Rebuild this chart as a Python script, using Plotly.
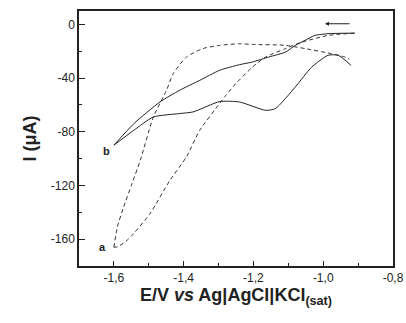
import plotly.graph_objects as go

# curve a (dashed): forward scan (to -1.6 V) then reverse scan
a_fwd_E = [-0.91, -0.986, -1.061, -1.108, -1.165, -1.203, -1.25, -1.279, -1.297, -1.354, -1.392, -1.439, -1.496, -1.543, -1.567, -1.59, -1.60]
a_fwd_I = [-6.5, -8.2, -13.2, -18, -24.3, -31.8, -44, -52.8, -59, -78.9, -98.7, -116, -140.8, -155.7, -162, -165.7, -166]
a_rev_E = [-1.60, -1.59, -1.572, -1.548, -1.524, -1.487, -1.449, -1.43, -1.392, -1.345, -1.297, -1.24, -1.203, -1.108, -1.052, -0.976, -0.938, -0.925]
a_rev_I = [-166, -150.8, -136, -118.6, -101, -69, -49, -36.7, -24.3, -18, -15.6, -14.4, -14.9, -15.6, -18, -21.8, -24.3, -26]

# curve b (solid): forward scan then reverse scan
b_fwd_E = [-0.91, -0.986, -1.024, -1.052, -1.08, -1.108, -1.156, -1.203, -1.24, -1.297, -1.354, -1.411, -1.468, -1.543, -1.60]
b_fwd_I = [-6.5, -6.9, -8.2, -11.9, -15.6, -20.6, -24.3, -28, -30, -34.2, -41.7, -49, -57.8, -74, -90]
b_rev_E = [-1.60, -1.543, -1.487, -1.411, -1.373, -1.297, -1.24, -1.165, -1.137, -1.08, -1.033, -0.986, -0.957, -0.92]
b_rev_I = [-90, -78.9, -69, -66.4, -65.2, -57.5, -57.8, -64, -62.7, -46.6, -31.8, -23, -23, -30.5]

x_ticks = [-1.6, -1.4, -1.2, -1.0, -0.8]
x_tick_text = ["-1,6", "-1,4", "-1,2", "-1,0", "-0,8"]
y_ticks = [0, -40, -80, -120, -160]
y_tick_text = ["0", "-40", "-80", "-120", "-160"]

FONT = "Liberation Sans"
fig = go.Figure()
dash_line = dict(color="#333333", width=1, dash="4px,3px", shape="spline", smoothing=0.6)
solid_line = dict(color="#222222", width=1, shape="spline", smoothing=0.6)
for xs, ys, ln in [(a_fwd_E, a_fwd_I, dash_line), (a_rev_E, a_rev_I, dash_line),
                   (b_fwd_E, b_fwd_I, solid_line), (b_rev_E, b_rev_I, solid_line)]:
    fig.add_trace(go.Scatter(x=xs, y=ys, mode="lines", line=ln, showlegend=False, hoverinfo="skip"))

fig.add_annotation(x=-1.622, y=-94.5, text="<b>b</b>", showarrow=False, font=dict(size=11, color="#222", family=FONT))
fig.add_annotation(x=-1.632, y=-166, text="<b>a</b>", showarrow=False, font=dict(size=11, color="#222", family=FONT))
fig.add_annotation(x=-0.995, y=0.5, ax=-0.92, ay=0.5, xref="x", yref="y", axref="x", ayref="y",
                   text="", showarrow=True, arrowhead=2, arrowsize=0.8, arrowwidth=1, arrowcolor="#222")

fig.update_xaxes(range=[-1.7, -0.8], tickvals=x_ticks, ticktext=x_tick_text, ticks="inside", ticklen=5,
                 tickwidth=1, tickcolor="#222", showline=True, linecolor="#222", linewidth=1.5, mirror=True,
                 showgrid=False, zeroline=False, automargin=False,
                 minor=dict(tickvals=[-1.7, -1.5, -1.3, -1.1, -0.9], ticks="inside", ticklen=3, tickcolor="#222"),
                 tickfont=dict(size=12, color="#222", family=FONT),
                 title=dict(text="<b>E/V <i>vs</i> Ag|AgCl|KCl<sub>(sat)</sub></b>", font=dict(size=18, color="#222", family=FONT), standoff=2))
fig.update_yaxes(range=[-180, 10], tickvals=y_ticks, ticktext=y_tick_text, ticks="inside", ticklen=6,
                 tickwidth=1, tickcolor="#222", showline=True, linecolor="#222", linewidth=1.5, mirror=True,
                 showgrid=False, zeroline=False, automargin=False,
                 minor=dict(tickvals=[-20, -60, -100, -140], ticks="inside", ticklen=3, tickcolor="#222"),
                 tickfont=dict(size=12, color="#222", family=FONT),
                 title=dict(text="<b>I (μA)</b>", font=dict(size=18, color="#222", family=FONT), standoff=10))

fig.update_layout(width=406, height=323, margin=dict(l=79, r=13, t=11, b=57),
                  paper_bgcolor="white", plot_bgcolor="white")
fig.write_html("out.html", config={"displayModeBar": False}, post_script="document.body.style.margin='0';")
